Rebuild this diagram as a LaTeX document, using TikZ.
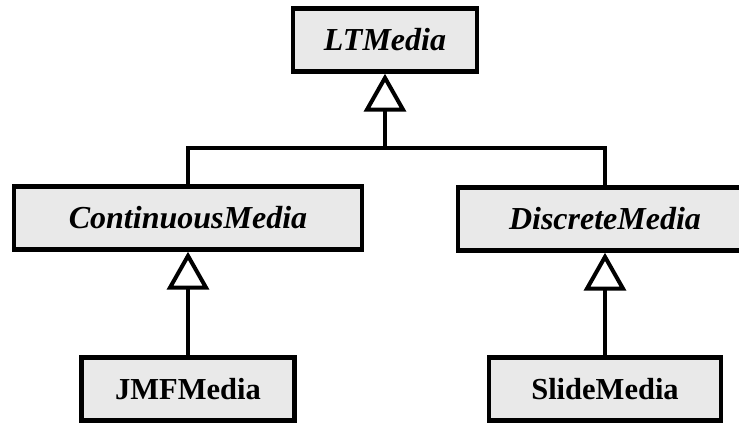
\documentclass[tikz,border=0pt]{standalone}
\usepackage{fontspec}
\setmainfont{Liberation Serif}
\usetikzlibrary{arrows.meta}
\definecolor{boxfill}{HTML}{E9E9E9}
\tikzset{
  cls/.style={draw=black, fill=boxfill, line width=4.5pt, inner sep=0pt,
    font=\fontsize{30.5}{36}\selectfont\bfseries, minimum height=63pt},
  abs/.style={cls, font=\fontsize{32}{38}\selectfont\bfseries\itshape},
  link/.style={line width=4pt},
  inh/.style={link, -{Triangle[open, length=38pt, width=42pt, line width=4pt]}}
}
\begin{document}
\begin{tikzpicture}[x=1pt,y=1pt]
\useasboundingbox (0,0) rectangle (739,423);
\clip (0,0) rectangle (739,423);
\node[abs, minimum width=184pt] (lt) at (385,383) {LTMedia};
\node[abs, minimum width=348pt] (cm) at (188,205) {ContinuousMedia};
\node[abs, minimum width=294pt] (dm) at (605,204) {DiscreteMedia};
\node[cls, minimum width=213pt] (jmf) at (188,34) {JMFMedia};
\node[cls, minimum width=232pt] (sl) at (605,34) {SlideMedia};
\coordinate (j) at (385,275);
\draw[inh] (j) -- (lt.south);
\draw[link] (cm.north) |- (j) -| (dm.north);
\draw[inh] (jmf.north) -- (cm.south);
\draw[inh] (sl.north) -- (dm.south);
\end{tikzpicture}
\end{document}
